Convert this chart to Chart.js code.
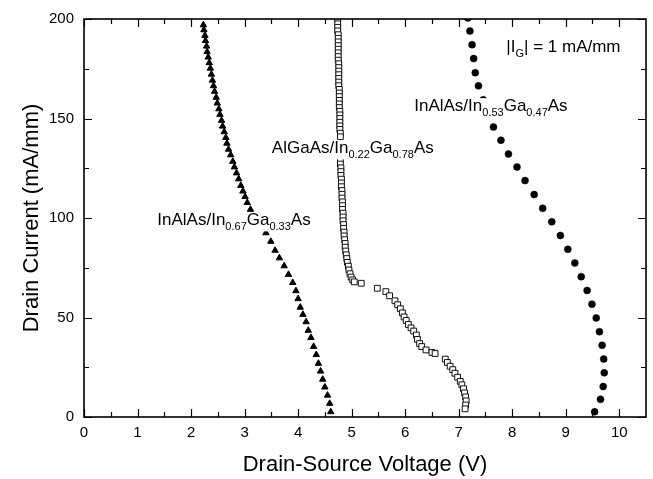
<!DOCTYPE html>
<html>
<head>
<meta charset="utf-8">
<script src="https://cdn.jsdelivr.net/npm/chart.js@4.4.1/dist/chart.umd.min.js"></script>
<style>
  html, body { margin: 0; padding: 0; background: #fff; }
  canvas { display: block; }
</style>
</head>
<body>
<canvas id="ivChart" width="653" height="479"></canvas>
<script>
// Drain current vs drain-source voltage at |IG| = 1 mA/mm, three HEMT structures
// values (V in volts, I in mA/mm)

// InAlAs/In0.67Ga0.33As (filled triangles)
const triVolt = [2.23, 2.24, 2.26, 2.27, 2.29, 2.30, 2.32, 2.34, 2.36, 2.38, 2.40, 2.42, 2.44, 2.47, 2.49,
  2.52, 2.54, 2.57, 2.59, 2.62, 2.65, 2.67, 2.70, 2.74, 2.78, 2.81, 2.85, 2.89, 2.93, 2.97, 3.01, 3.05,
  3.11, 3.20, 3.32, 3.40, 3.49, 3.57, 3.65, 3.74, 3.82, 3.90, 3.96, 4.00, 4.04, 4.09, 4.15, 4.19, 4.24,
  4.29, 4.34, 4.38, 4.42, 4.46, 4.50, 4.55, 4.59, 4.61];
const triCurr = [197.0, 194.5, 191.7, 189.1, 186.3, 183.5, 180.8, 178.0, 175.2, 172.2, 169.2, 166.4, 163.6, 160.6, 157.7,
  154.8, 152.0, 149.0, 146.1, 143.3, 140.4, 137.5, 134.5, 131.7, 128.4, 125.6, 122.6, 119.6, 116.3, 113.5, 110.7, 107.7,
  104.3, 100.4, 96.4, 92.5, 88.2, 83.7, 79.9, 75.9, 71.6, 67.5, 63.4, 59.4, 55.1, 51.5, 47.8, 43.5, 39.9,
  35.4, 31.3, 26.9, 23.0, 18.9, 15.0, 10.9, 6.8, 2.6];

// AlGaAs/In0.22Ga0.78As (open squares)
const sqVolt = [4.74, 4.74, 4.74, 4.74, 4.75, 4.75, 4.75, 4.75, 4.75, 4.75, 4.75, 4.75, 4.76, 4.76, 4.76, 4.76, 4.76,
  4.76, 4.76, 4.77, 4.77, 4.77, 4.77, 4.77, 4.77, 4.78, 4.78, 4.78, 4.78, 4.78, 4.78, 4.79, 4.79,
  4.79, 4.79, 4.80, 4.80, 4.80, 4.81, 4.81, 4.81, 4.82, 4.82, 4.82, 4.83, 4.83, 4.83, 4.84, 4.84, 4.84,
  4.85, 4.85, 4.86, 4.86, 4.87, 4.88, 4.88, 4.89, 4.90, 4.91, 4.92, 4.94, 4.95, 4.97, 4.99, 5.02, 5.05, 5.18,
  5.48, 5.64, 5.71, 5.81, 5.86, 5.91, 5.95, 5.98, 6.02, 6.06, 6.11, 6.16, 6.21, 6.23, 6.27, 6.31, 6.39,
  6.50, 6.56, 6.75, 6.79, 6.84, 6.89, 6.93, 6.98, 7.03, 7.06, 7.09, 7.11, 7.13, 7.14, 7.13, 7.12];
const sqCurr = [199.5, 197.6, 195.8, 194.0, 192.1, 190.3, 188.5, 186.6, 184.8, 183.0, 181.1, 179.3, 177.5, 175.6, 173.8, 172.0, 170.1,
  168.3, 166.5, 164.6, 162.8, 161.0, 159.1, 157.3, 155.5, 153.6, 151.8, 150.0, 148.1, 146.3, 144.5, 142.6, 140.8,
  129.0, 127.1, 125.2, 123.3, 121.4, 119.5, 117.6, 115.7, 113.8, 111.9, 110.0, 108.1, 106.2, 104.3, 102.4, 100.5, 98.6,
  96.7, 94.8, 92.9, 91.0, 89.1, 87.2, 85.3, 83.4, 81.5, 79.6, 77.7, 75.8, 73.9, 72.0, 70.3, 68.9, 67.9, 67.2,
  64.7, 63.0, 60.9, 58.4, 56.4, 54.4, 52.3, 50.3, 48.5, 46.5, 44.8, 43.2, 41.2, 39.0, 36.9, 35.4, 33.7,
  32.4, 31.9, 29.1, 27.4, 25.5, 23.8, 22.0, 20.0, 17.9, 16.2, 14.2, 12.1, 10.1, 8.1, 6.0, 4.1];

// InAlAs/In0.53Ga0.47As (filled circles)
const cirVolt = [7.17, 7.21, 7.25, 7.28, 7.31, 7.37, 7.46, 7.55, 7.65, 7.79, 7.93, 8.09, 8.24, 8.41, 8.57,
  8.74, 8.90, 9.04, 9.17, 9.29, 9.40, 9.49, 9.57, 9.63, 9.68, 9.71, 9.72, 9.70, 9.65, 9.54];
const cirCurr = [200.5, 194.0, 187.1, 180.1, 173.0, 166.4, 159.4, 152.6, 145.7, 139.1, 132.2, 125.6, 118.8, 111.8, 104.9,
  98.1, 91.2, 84.3, 77.4, 70.5, 63.6, 56.7, 49.8, 42.9, 36.0, 29.1, 22.2, 15.3, 8.9, 2.6];

// axis ticks
const xTicks = [0, 1, 2, 3, 4, 5, 6, 7, 8, 9, 10];
const xMinorTicks = [0.5, 1.5, 2.5, 3.5, 4.5, 5.5, 6.5, 7.5, 8.5, 9.5];
const yTicks = [0, 50, 100, 150, 200];
const yMinorTicks = [25, 75, 125, 175];

const FONT = '"Liberation Sans", Arial, Helvetica, sans-serif';

function toPoints(xs, ys) {
  const n = Math.min(xs.length, ys.length);
  const pts = [];
  for (let i = 0; i < n; i++) pts.push({ x: xs[i], y: ys[i] });
  return pts;
}

// text with subscripts: parts = [[text, isSub], ...]; white box behind like in the scan
function drawRich(ctx, parts, x0, y0) {
  let w = 0;
  parts.forEach(p => {
    ctx.font = (p[1] ? '11px ' : '17px ') + FONT;
    w += ctx.measureText(p[0]).width;
  });
  ctx.fillStyle = '#fff';
  ctx.fillRect(x0 - 1, y0 - 13, w + 2, 19);
  ctx.fillStyle = '#000';
  ctx.textBaseline = 'alphabetic';
  ctx.textAlign = 'left';
  let cx = x0;
  parts.forEach(p => {
    ctx.font = (p[1] ? '11px ' : '17px ') + FONT;
    ctx.fillText(p[0], cx, p[1] ? y0 + 5 : y0);
    cx += ctx.measureText(p[0]).width;
  });
}

// frame, inward ticks on all four sides, labels and axis titles
const decorPlugin = {
  id: 'decor',
  afterDatasetsDraw(chart) {
    const { ctx, chartArea: a, scales: { x, y } } = chart;
    ctx.save();
    ctx.strokeStyle = '#000';
    ctx.lineCap = 'butt';

    ctx.lineWidth = 1.2;
    const vTick = (v, len) => {
      const px = Math.round(x.getPixelForValue(v)) + 0.5;
      ctx.beginPath();
      ctx.moveTo(px, a.bottom); ctx.lineTo(px, a.bottom - len);
      ctx.moveTo(px, a.top); ctx.lineTo(px, a.top + len);
      ctx.stroke();
    };
    const hTick = (v, len) => {
      const py = Math.round(y.getPixelForValue(v)) + 0.5;
      ctx.beginPath();
      ctx.moveTo(a.left, py); ctx.lineTo(a.left + len, py);
      ctx.moveTo(a.right, py); ctx.lineTo(a.right - len, py);
      ctx.stroke();
    };
    xTicks.forEach(v => vTick(v, 8));
    xMinorTicks.forEach(v => vTick(v, 5));
    yTicks.forEach(v => hTick(v, 8));
    yMinorTicks.forEach(v => hTick(v, 5));

    ctx.lineWidth = 1.6;
    ctx.strokeRect(a.left, a.top, a.right - a.left, a.bottom - a.top);

    // curve labels, anchored in data units
    const at = (v, i) => [x.getPixelForValue(v), y.getPixelForValue(i)];
    let p;
    p = at(7.89, 183.6);
    drawRich(ctx, [['|I', false], ['G', true], ['| = 1 mA/mm', false]], p[0], p[1]);
    p = at(6.17, 153.7);
    drawRich(ctx, [['InAlAs/In', false], ['0.53', true], ['Ga', false], ['0.47', true], ['As', false]], p[0], p[1]);
    p = at(3.51, 132.5);
    drawRich(ctx, [['AlGaAs/In', false], ['0.22', true], ['Ga', false], ['0.78', true], ['As', false]], p[0], p[1]);
    p = at(1.37, 96.3);
    drawRich(ctx, [['InAlAs/In', false], ['0.67', true], ['Ga', false], ['0.33', true], ['As', false]], p[0], p[1]);

    // axis titles
    ctx.fillStyle = '#000';
    ctx.font = '22px ' + FONT;
    ctx.textAlign = 'center';
    ctx.textBaseline = 'middle';
    ctx.fillText('Drain-Source Voltage (V)', (a.left + a.right) / 2, 465);
    ctx.translate(32, (a.top + a.bottom) / 2);
    ctx.rotate(-Math.PI / 2);
    ctx.fillText('Drain Current (mA/mm)', 0, 0);
    ctx.restore();
  }
};

const ctx = document.getElementById('ivChart').getContext('2d');
new Chart(ctx, {
  type: 'scatter',
  data: {
    datasets: [
      {
        label: 'InAlAs/In0.67Ga0.33As',
        data: toPoints(triVolt, triCurr),
        pointStyle: 'triangle',
        pointRadius: 3.7,
        backgroundColor: '#000',
        borderColor: '#000',
        borderWidth: 1,
        clip: 0
      },
      {
        label: 'AlGaAs/In0.22Ga0.78As',
        data: toPoints(sqVolt, sqCurr),
        pointStyle: 'rect',
        pointRadius: 4.1,
        backgroundColor: '#fff',
        borderColor: '#111',
        borderWidth: 1,
        clip: 0
      },
      {
        label: 'InAlAs/In0.53Ga0.47As',
        data: toPoints(cirVolt, cirCurr),
        pointStyle: 'circle',
        pointRadius: 3.5,
        backgroundColor: '#000',
        borderColor: '#000',
        borderWidth: 0.5,
        clip: 0
      }
    ]
  },
  options: {
    responsive: false,
    animation: false,
    devicePixelRatio: 1,
    layout: { padding: { top: 14, right: 7, left: 0, bottom: 0 } },
    plugins: {
      legend: { display: false },
      tooltip: { enabled: false }
    },
    scales: {
      x: {
        type: 'linear',
        min: 0,
        max: 10.5,
        afterBuildTicks: s => { s.ticks = xTicks.map(v => ({ value: v })); },
        afterFit: s => { s.height = 62; },
        grid: { display: false, drawTicks: false },
        border: { display: false },
        ticks: { padding: 7, color: '#000', maxRotation: 0, autoSkip: false, font: { family: FONT, size: 15 } }
      },
      y: {
        type: 'linear',
        min: 0,
        max: 200,
        afterBuildTicks: s => { s.ticks = yTicks.map(v => ({ value: v })); },
        afterFit: s => { s.width = 84; },
        grid: { display: false, drawTicks: false },
        border: { display: false },
        ticks: { padding: 10, color: '#000', autoSkip: false, font: { family: FONT, size: 15 } }
      }
    }
  },
  plugins: [decorPlugin]
});
</script>
</body>
</html>
